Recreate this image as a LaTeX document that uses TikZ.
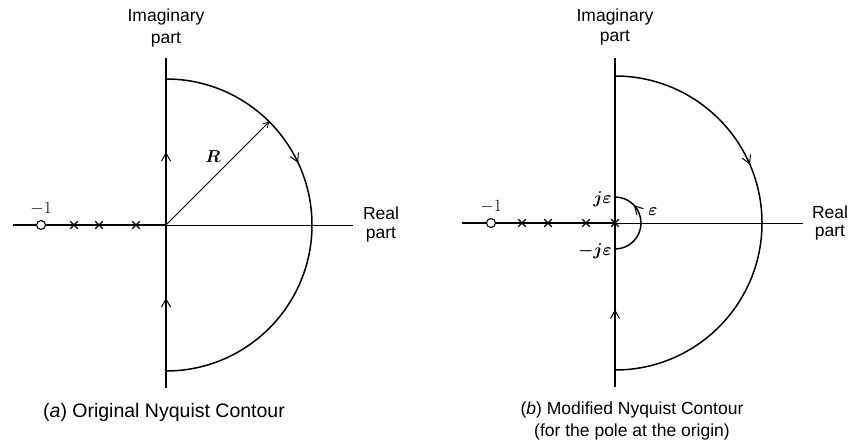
\documentclass[tikz,border=0pt]{standalone}
\usepackage{amsmath}
\usepackage{fontspec}
\setsansfont{Liberation Sans}
\usetikzlibrary{arrows.meta,decorations.markings}
\tikzset{
  axisline/.style={line width=1.3pt},
  thinaxis/.style={line width=0.6pt},
  contour/.style={line width=1.5pt},
  lbl/.style={font=\sffamily\fontsize{17.5}{20}\selectfont, inner sep=0pt},
  biglbl/.style={font=\sffamily\fontsize{19.5}{22}\selectfont, inner sep=0pt},
  mlbl/.style={font=\fontsize{18}{20}\selectfont, inner sep=0pt},
  midarrow/.style={postaction={decorate},decoration={markings,mark=at position #1 with {\arrow{Straight Barb[length=8pt,width=9pt,line width=1pt]}}}},
  polex/.style={line width=1.2pt},
  zerocirc/.style={draw,circle,line width=1.1pt,minimum size=9pt,inner sep=0pt,fill=white},
}
\begin{document}
\begin{tikzpicture}[x=1pt,y=1pt]
\useasboundingbox (0,0) rectangle (850,443);
% ---------------- panel (a) ----------------
\coordinate (Oa) at (166,218);
\coordinate (aTop) at (166,385);
\coordinate (aBot) at (166,55);
\coordinate (aLeft) at (13,218);
\coordinate (aRight) at (353,218);
\coordinate (aCtop) at (166,364);
\coordinate (aCbot) at (166,72);
\coordinate (aRend) at (269.2,321.2);
\draw[axisline] (aLeft) -- (Oa);
\draw[thinaxis] (Oa) -- (aRight);
\draw[axisline] (aBot) -- (aTop);
\draw[axisline,midarrow=0.5] (aCbot) -- (Oa);
\draw[axisline,midarrow=0.5] (Oa) -- (aCtop);
\draw[contour,midarrow=0.36] (aCtop) arc[start angle=90,end angle=-90,radius=146];
\draw[line width=0.8pt,-{Straight Barb[length=5pt,width=6pt]}] (Oa) -- (aRend);
\node[mlbl,font=\fontsize{19}{21}\selectfont] (aR) at (213,286) {$\boldsymbol{R}$};
\node[zerocirc] (aZ) at (41,218) {};
\foreach \x/\n in {74/ap1,99/ap2,136/ap3}{
  \coordinate (\n) at (\x,218);
  \draw[polex] ([shift={(-3.8,-3.8)}]\n) -- ([shift={(3.8,3.8)}]\n) ([shift={(-3.8,3.8)}]\n) -- ([shift={(3.8,-3.8)}]\n);
}
\node[mlbl] (aM1) at (41,234) {$-1$};
\node[lbl] (aReal) at (381,230) {Real};
\node[lbl] (aPart) at (381,208) {part};
\node[lbl] (aImag) at (166,426) {Imaginary};
\node[lbl] (aImPart) at (166,403) {part};
\node[biglbl] (aCap) at (164,31) {(\textit{a}) Original Nyquist Contour};
% ---------------- panel (b) ----------------
\coordinate (Ob) at (615,220);
\coordinate (bTop) at (615,385);
\coordinate (bBot) at (615,56);
\coordinate (bLeft) at (462,220);
\coordinate (bRight) at (803,220);
\coordinate (bCtop) at (615,367);
\coordinate (bCbot) at (615,73);
\coordinate (bEbot) at (615,194);
\coordinate (bEtop) at (615,246);
\draw[axisline] (bLeft) -- (Ob);
\draw[thinaxis] (Ob) -- (bRight);
\draw[axisline] (bBot) -- (bTop);
\draw[axisline,midarrow=0.5] (bCbot) -- (bEbot);
\draw[contour,midarrow=0.37] (bCtop) arc[start angle=90,end angle=-90,radius=147];
\draw[contour,midarrow=0.74] (bEbot) arc[start angle=-90,end angle=90,radius=26];
\node[zerocirc] (bZ) at (491,220) {};
\foreach \x/\n in {522/bp1,548/bp2,586/bp3,615/bp4}{
  \coordinate (\n) at (\x,220);
  \draw[polex] ([shift={(-3.8,-3.8)}]\n) -- ([shift={(3.8,3.8)}]\n) ([shift={(-3.8,3.8)}]\n) -- ([shift={(3.8,-3.8)}]\n);
}
\node[mlbl] (bM1) at (491,236) {$-1$};
\node[mlbl,anchor=east] (bJe) at (612,244) {$\boldsymbol{j\varepsilon}$};
\node[mlbl,anchor=east] (bmJe) at (612,192) {$\boldsymbol{-j\varepsilon}$};
\node[mlbl] (bEps) at (653,231) {$\boldsymbol{\varepsilon}$};
\node[lbl] (bReal) at (830,231) {Real};
\node[lbl] (bPart) at (830,210) {part};
\node[lbl] (bImag) at (615,426) {Imaginary};
\node[lbl] (bImPart) at (615,405) {part};
\node[lbl] (bCap) at (632,33) {(\textit{b}) Modified Nyquist Contour};
\node[lbl] (bCap2) at (632,11) {(for the pole at the origin)};
\end{tikzpicture}
\end{document}
